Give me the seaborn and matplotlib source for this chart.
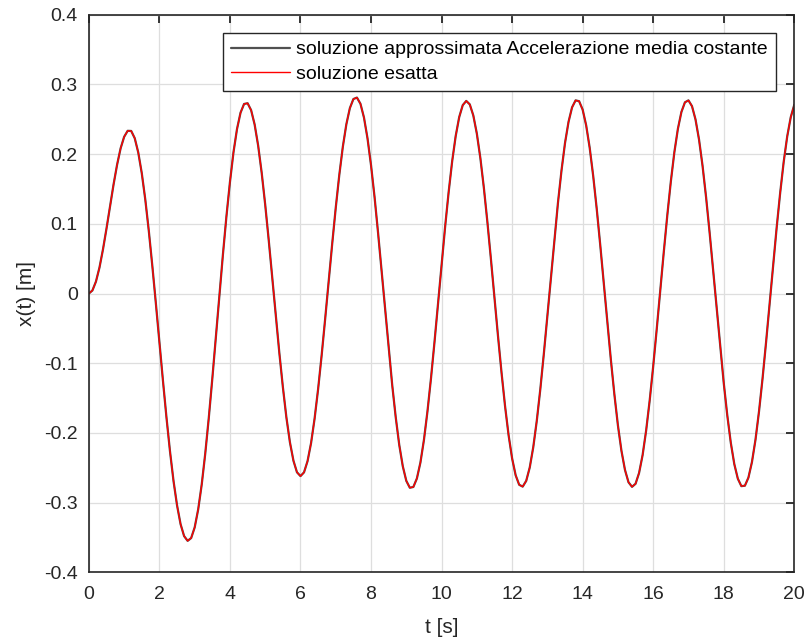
import numpy as np
import pandas as pd
import matplotlib
matplotlib.use("Agg")
import matplotlib.pyplot as plt
import seaborn as sns

# time axis: 0 ... 20 s, step 0.1 s
t = np.round(np.linspace(0.0, 20.0, 201), 1)

# displacement x(t) [m]
x_esatta = [
    0.0000, 0.0044, 0.0171, 0.0372, 0.0634, 0.0934, 0.1253, 0.1566, 0.1849, 0.2084, 0.2249, 0.2335,
    0.2333, 0.2229, 0.2024, 0.1726, 0.1346, 0.0895, 0.0391, -0.0145, -0.0700, -0.1250, -0.1779,
    -0.2265, -0.2691, -0.3040, -0.3310, -0.3481, -0.3549,
    -0.3509, -0.3356, -0.3096, -0.2738, -0.2294, -0.1783, -0.1220, -0.0630, -0.0031, 0.0556,
    0.1107, 0.1601, 0.2027, 0.2361, 0.2595, 0.2720,
    0.2731, 0.2631, 0.2425, 0.2121, 0.1731, 0.1272, 0.0762, 0.0224, -0.0321, -0.0851, -0.1341,
    -0.1777, -0.2134, -0.2399, -0.2565, -0.2620,
    -0.2566, -0.2405, -0.2145, -0.1794, -0.1369, -0.0885, -0.0361, 0.0181, 0.0719, 0.1233, 0.1701,
    0.2105, 0.2428, 0.2661, 0.2791,
    0.2812, 0.2723, 0.2525, 0.2227, 0.1840, 0.1384, 0.0868, 0.0319, -0.0242, -0.0793, -0.1311,
    -0.1775, -0.2172, -0.2478, -0.2688, -0.2787,
    -0.2776, -0.2654, -0.2426, -0.2101, -0.1691, -0.1216, -0.0693, -0.0142, 0.0415, 0.0954, 0.1453,
    0.1896, 0.2259, 0.2532, 0.2703, 0.2764,
    0.2714, 0.2555, 0.2295, 0.1943, 0.1513, 0.1022, 0.0490, -0.0061, -0.0611, -0.1135, -0.1616,
    -0.2032, -0.2366, -0.2607, -0.2744,
    -0.2771, -0.2688, -0.2496, -0.2204, -0.1824, -0.1371, -0.0862, -0.0317, 0.0240, 0.0787, 0.1302,
    0.1764, 0.2160, 0.2464, 0.2672, 0.2772,
    0.2760, 0.2639, 0.2413, 0.2090, 0.1683, 0.1211, 0.0690, 0.0142, -0.0412, -0.0950, -0.1448,
    -0.1892, -0.2257, -0.2531, -0.2708, -0.2774,
    -0.2730, -0.2575, -0.2318, -0.1967, -0.1538, -0.1046, -0.0513, 0.0042, 0.0594, 0.1122, 0.1606,
    0.2026, 0.2362, 0.2605, 0.2744,
    0.2772, 0.2689, 0.2498, 0.2209, 0.1831, 0.1381, 0.0874, 0.0332, -0.0222, -0.0768, -0.1282,
    -0.1744, -0.2140, -0.2448, -0.2657, -0.2764,
    -0.2758, -0.2642, -0.2419, -0.2100, -0.1694, -0.1223, -0.0702, -0.0153, 0.0402, 0.0941, 0.1442,
    0.1888, 0.2254, 0.2530, 0.2708,
]
# the constant-average-acceleration solution coincides with the exact one at this scale
x_approssimata = list(x_esatta)

labels = ["soluzione approssimata Accelerazione media costante", "soluzione esatta"]
x_ticks = [0, 2, 4, 6, 8, 10, 12, 14, 16, 18, 20]
y_ticks = [-0.4, -0.3, -0.2, -0.1, 0.0, 0.1, 0.2, 0.3, 0.4]
y_tick_labels = ["-0.4", "-0.3", "-0.2", "-0.1", "0", "0.1", "0.2", "0.3", "0.4"]

df = pd.DataFrame({"t": t, "approx": x_approssimata, "exact": x_esatta})

sns.set_style("white")
plt.rcParams["font.family"] = ["Liberation Sans", "DejaVu Sans"]
plt.rcParams["axes.unicode_minus"] = False

ink = "#262626"
fig = plt.figure(figsize=(8.08, 6.43), dpi=100)
ax = fig.add_axes([0.110, 0.110, 0.873, 0.867])

sns.lineplot(data=df, x="t", y="approx", ax=ax, color="#505050", linewidth=1.6,
             label=labels[0], sort=False, solid_joinstyle="round")
sns.lineplot(data=df, x="t", y="exact", ax=ax, color="#ff0000", linewidth=1.0,
             label=labels[1], sort=False, solid_joinstyle="round")

ax.set_xlim(0, 20)
ax.set_ylim(-0.4, 0.4)
ax.set_xticks(x_ticks)
ax.set_xticklabels([str(v) for v in x_ticks])
ax.set_yticks(y_ticks)
ax.set_yticklabels(y_tick_labels)

ax.grid(True, color="#dedede", linewidth=0.9)
ax.set_axisbelow(True)
for s in ax.spines.values():
    s.set_visible(True)
    s.set_color(ink)
    s.set_linewidth(1.2)
ax.tick_params(direction="in", length=6, width=1.3, color=ink, labelcolor=ink,
               labelsize=14, top=True, right=True)
ax.tick_params(axis="x", pad=10)
ax.tick_params(axis="y", pad=8)

ax.set_xlabel("t [s]", fontsize=15, color=ink, labelpad=11)
ax.set_ylabel("x(t) [m]", fontsize=15, color=ink, labelpad=6)

leg = ax.legend(loc="upper right", bbox_to_anchor=(0.9745, 0.968), fontsize=14,
                frameon=True, fancybox=False, framealpha=1.0, edgecolor=ink,
                handlelength=3.0, handletextpad=0.35, labelspacing=0.36,
                borderpad=0.42, borderaxespad=0.0)
leg.get_frame().set_linewidth(1.0)
for txt in leg.get_texts():
    txt.set_color("black")

fig.savefig("out.png", dpi=100, facecolor="white")
